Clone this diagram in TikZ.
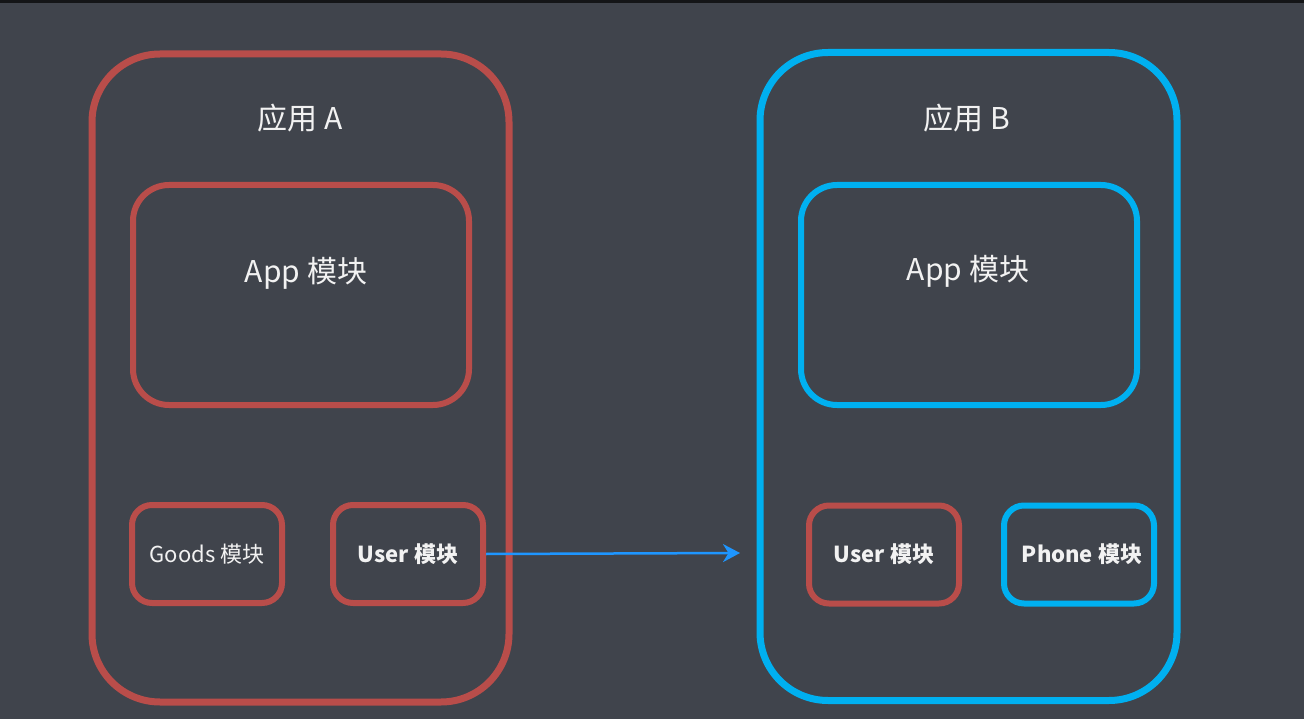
\documentclass[tikz,border=0pt]{standalone}
\usepackage{fontspec}
\setmainfont{Noto Sans CJK SC}
\usepackage{tikz}
\usetikzlibrary{arrows.meta}
\definecolor{bgdark}{HTML}{40444C}
\definecolor{topstrip}{HTML}{141517}
\definecolor{boxred}{HTML}{B94D4A}
\definecolor{boxblue}{HTML}{00B0F0}
\definecolor{arrowblue}{HTML}{1E96FF}
\definecolor{txtwhite}{HTML}{F2F2F2}

\begin{document}
\begin{tikzpicture}[x=1pt, y=-1pt,
        appbox/.style={draw, line width=7pt, rounded corners=68pt, minimum width=417pt, minimum height=648pt},
        bigmod/.style={draw, line width=6pt, rounded corners=36pt, minimum width=336pt, minimum height=220pt},
        smallmod/.style={line width=6pt, rounded corners=20pt, minimum width=150pt, minimum height=98pt,
            text=txtwhite, font=\fontsize{22}{24}\selectfont},
        boldmod/.style={smallmod, font=\fontsize{22}{24}\selectfont\bfseries},
        bigtxt/.style={text=txtwhite, font=\fontsize{30}{32}\selectfont}]
    \useasboundingbox (0,0) rectangle (1304,719);
    \fill[bgdark] (0,0) rectangle (1304,719);
    \fill[topstrip] (0,0) rectangle (1304,3);

    % application A
    \node[appbox, boxred] (appA) at (300.5,378) {};
    \node[bigtxt] (titleA) at (300,118) {应用 A};
    \node[bigmod, boxred] (mainA) at (301,295) {};
    \node[bigtxt] (mainAtxt) at (306,273) {App 模块};
    \node[smallmod, draw=boxred] (goodsA) at (207,554) {Goods 模块};
    \node[boldmod, draw=boxred] (userA) at (408,554) {User 模块};

    % application B
    \node[appbox, boxblue] (appB) at (968.5,376.5) {};
    \node[bigtxt] (titleB) at (967,118) {应用 B};
    \node[bigmod, boxblue] (mainB) at (969,295) {};
    \node[bigtxt] (mainBtxt) at (968,271) {App 模块};
    \node[boldmod, draw=boxred] (userB) at (884,554.5) {User 模块};
    \node[boldmod, draw=boxblue] (phoneB) at (1079,554.5) {\hspace{6pt}Phone 模块};

    \coordinate (tipB) at (740,553);
    \draw[arrowblue, line width=2.5pt, -{Stealth[length=17pt, width=18pt]}] (userA.east) -- (tipB);
\end{tikzpicture}
\end{document}
